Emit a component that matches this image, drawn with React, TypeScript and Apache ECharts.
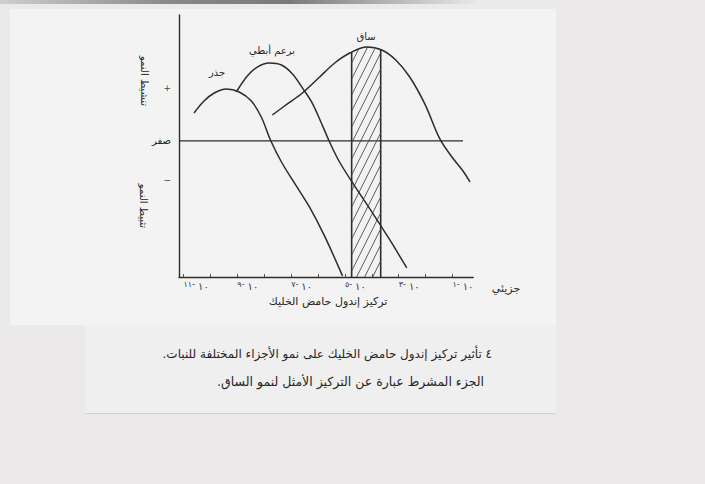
import React, { useEffect, useRef } from "react";
import * as echarts from "echarts";

// Concentration axis: log10 of IAA molar concentration
const xMin = -11.17;
const xMax = -0.23;
const xTickExponents = [-11, -10, -9, -8, -7, -6, -5, -4, -3, -2, -1];
const xLabelExponents = [-11, -9, -7, -5, -3, -1];

// Growth response (arbitrary units, 0 = no effect)
const yMin = -10.8;
const yMax = 10;
const yMarkValues = [4.2, 0, -3.1];
const yMarkTexts = ["+", "صفر", "−"];

// Response curves [log10 concentration, growth response]
const rootCurve: [number, number][] = [
  [-10.61, 2.22], [-10.24, 3.17], [-9.86, 3.81], [-9.41, 4.13], [-8.93, 3.89],
  [-8.48, 3.17], [-8.11, 1.9], [-7.77, 0.08], [-7.36, -1.67], [-6.88, -3.33],
  [-6.32, -5.24], [-5.76, -7.54], [-5.09, -10.71],
];
const budCurve: [number, number][] = [
  [-9.04, 3.89], [-8.63, 5.16], [-8.26, 5.87], [-7.81, 6.19], [-7.36, 6.03],
  [-6.95, 5.32], [-6.58, 4.21], [-6.24, 3.1], [-5.91, 1.59], [-5.57, -0.08],
  [-5.2, -1.67], [-4.64, -3.57], [-4.0, -5.63], [-3.33, -7.86], [-2.7, -10.08],
];
const stemCurve: [number, number][] = [
  [-7.7, 2.06], [-7.14, 2.94], [-6.58, 3.81], [-5.94, 5.08], [-5.38, 6.19],
  [-4.82, 6.98], [-4.19, 7.46], [-3.63, 7.22], [-3.11, 6.43], [-2.59, 5.08],
  [-2.03, 2.94], [-1.47, 0.16], [-1.02, -1.27], [-0.61, -2.38], [-0.35, -3.25],
];

// Optimal concentration band for stem growth (hatched)
const optimalStemRange: [number, number] = [-4.75, -3.67];
// Extent of the zero-response line
const zeroLineRange: [number, number] = [xMin, -0.61];

const curveNames = ["جذر", "برعم أبطي", "ساق"];
const xTitle = "تركيز إندول حامض الخليك";
const xUnit = "جزيئي";
const yUpperTitle = "تنشيط النمو";
const yLowerTitle = "تثبيط النمو";
const captionLines = [
  "٤ تأثير تركيز إندول حامض الخليك على نمو الأجزاء المختلفة للنبات.",
  "الجزء المشرط عبارة عن التركيز الأمثل لنمو الساق.",
];

const RLM = "\u200F";
const FONT = "DejaVu Sans";
const INK = "#2c2c2c";

const toArabicDigits = (n: number) =>
  String(n).replace(/\d/g, (d) => "٠١٢٣٤٥٦٧٨٩"[Number(d)]);

const curveStyle = { color: INK, width: 1.5 };

function buildOption(): echarts.EChartsOption {
  const hatchSeries: any = {
    type: "custom",
    silent: true,
    clip: false,
    z: 3,
    data: [optimalStemRange],
    renderItem: (_params: any, api: any) => {
      const xl = api.coord([api.value(0), 0])[0];
      const xr = api.coord([api.value(1), 0])[0];
      const yB = api.coord([xMin, yMin])[1];
      const pts = stemCurve.map((p) => api.coord(p));
      const top = (x: number) => {
        for (let i = 0; i < pts.length - 1; i++) {
          const [x0, y0] = pts[i];
          const [x1, y1] = pts[i + 1];
          if (x >= x0 && x <= x1) return y0 + ((y1 - y0) * (x - x0)) / (x1 - x0);
        }
        return pts[pts.length - 1][1];
      };
      let yT = Infinity;
      for (let x = xl; x <= xr; x += 0.5) yT = Math.min(yT, top(x));
      const children: any[] = [];
      [xl, xr].forEach((x) =>
        children.push({
          type: "line",
          shape: { x1: x, y1: yB, x2: x, y2: top(x) - 0.5 },
          style: { stroke: INK, lineWidth: 1.6 },
        })
      );
      const k = 0.5;
      const s = 8;
      for (let c = xl - k * (yB - yT); c < xr; c += s) {
        let first: number[] | null = null;
        let last: number[] | null = null;
        for (let y = yB; y >= yT - 1; y -= 0.5) {
          const x = c + k * (yB - y);
          if (x >= xl && x <= xr && y >= top(x) - 0.5) {
            if (!first) first = [x, y];
            last = [x, y];
          }
        }
        if (first && last && last[1] < first[1] - 1) {
          children.push({
            type: "line",
            shape: { x1: first[0], y1: first[1], x2: last[0], y2: last[1] },
            style: { stroke: "#4a4a4a", lineWidth: 0.9 },
          });
        }
      }
      return { type: "group", children };
    },
  };

  const lineSeries = (name: string, data: [number, number][]): any => ({
    name,
    type: "line",
    data,
    smooth: 0.35,
    symbol: "none",
    silent: true,
    lineStyle: curveStyle,
    z: 4,
  });

  const textEl = (text: string, x: number, y: number, size: number, extra: any = {}) => ({
    type: "text",
    x,
    y,
    silent: true,
    style: {
      text,
      fill: "#262626",
      font: `${size}px "${FONT}"`,
      align: "center",
      verticalAlign: "middle",
      ...extra,
    },
  });

  return {
    animation: false,
    backgroundColor: "transparent",
    grid: { left: 179, right: 231.8, top: 15, bottom: 207, outerBoundsMode: "none" } as any,
    xAxis: {
      type: "value",
      min: xMin,
      max: xMax,
      axisLine: { show: true, onZero: false, lineStyle: { color: INK, width: 1.4 } },
      axisTick: {
        show: true,
        inside: true,
        length: 3,
        lineStyle: { color: "#555", width: 1 },
        customValues: xTickExponents,
      } as any,
      axisLabel: {
        customValues: xLabelExponents,
        align: "left",
        margin: 3,
        formatter: (v: number) =>
          `{e|${toArabicDigits(Math.abs(Math.round(v)))}}{e|-}{b|${toArabicDigits(10)}}`,
        rich: {
          e: {
            fontSize: 8,
            fontFamily: FONT,
            color: "#333",
            lineHeight: 10,
            verticalAlign: "bottom",
            padding: [0, 0, 3, 0],
          },
          b: {
            fontSize: 10,
            fontFamily: FONT,
            color: "#333",
            lineHeight: 11,
            verticalAlign: "bottom",
            padding: [0, 0, 0, 3],
          },
        },
      } as any,
      splitLine: { show: false },
    },
    yAxis: {
      type: "value",
      min: yMin,
      max: yMax,
      axisLine: { show: true, lineStyle: { color: INK, width: 1.4 } },
      axisTick: { show: false },
      axisLabel: {
        customValues: yMarkValues,
        margin: 8,
        formatter: (v: number) => {
          const i = yMarkValues.findIndex((m) => Math.abs(m - v) < 1e-6);
          const t = i >= 0 ? yMarkTexts[i] : "";
          return v === 0 ? `{z|${t}}` : `{p|${t}}`;
        },
        rich: {
          z: { fontSize: 10, fontFamily: FONT, color: "#262626" },
          p: { fontSize: 9, fontFamily: FONT, color: "#444" },
        },
      } as any,
      splitLine: { show: false },
    },
    series: [
      {
        name: "zero",
        type: "line",
        data: [
          [zeroLineRange[0], 0],
          [zeroLineRange[1], 0],
        ],
        symbol: "none",
        silent: true,
        lineStyle: { color: INK, width: 1.3 },
        z: 2,
      },
      lineSeries(curveNames[0], rootCurve),
      lineSeries(curveNames[1], budCurve),
      lineSeries(curveNames[2], stemCurve),
      hatchSeries,
    ],
    graphic: [
      textEl(curveNames[0], 217, 72, 10),
      textEl(curveNames[1], 272, 50, 10),
      textEl(curveNames[2], 366, 36, 10),
      { ...textEl(yUpperTitle, 144, 81, 10), rotation: -Math.PI / 2 },
      { ...textEl(yLowerTitle, 143, 206, 10), rotation: -Math.PI / 2 },
      textEl(xTitle, 328, 301, 11),
      textEl(xUnit, 506, 288, 11),
      textEl(captionLines[0] + RLM, 492, 354, 12, { align: "right" }),
      textEl(captionLines[1] + RLM, 484, 381, 12.5, { align: "right" }),
    ] as any,
  };
}

export default function App() {
  const ref = useRef<HTMLDivElement>(null);
  useEffect(() => {
    const chart = echarts.init(ref.current!, null, { renderer: "svg" });
    chart.setOption(buildOption());
    return () => chart.dispose();
  }, []);
  return (
    <div
      style={{
        position: "fixed",
        left: 0,
        top: 0,
        width: 705,
        height: 484,
        background: "#ebe9ea",
        overflow: "hidden",
      }}
    >
      <div
        style={{
          position: "absolute",
          left: 0,
          top: 0,
          width: 480,
          height: 4,
          background:
            "linear-gradient(90deg, #d0cecf, #8a8889 35%, #7a7879 60%, rgba(235,233,234,0))",
        }}
      />
      <div style={{ position: "absolute", left: 10, top: 9, width: 546, height: 316, background: "#f4f3f3" }} />
      <div
        style={{
          position: "absolute",
          left: 85,
          top: 325,
          width: 471,
          height: 88,
          background: "#f0efef",
          borderBottom: "1px solid #d3d1d2",
        }}
      />
      <div ref={ref} style={{ position: "absolute", left: 0, top: 0, width: 705, height: 484 }} />
    </div>
  );
}
